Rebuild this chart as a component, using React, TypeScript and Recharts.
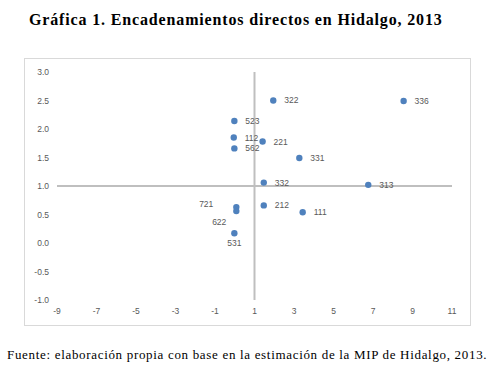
import React from "react";
import { ScatterChart, Scatter, XAxis, YAxis, ReferenceLine } from "recharts";

const sectors = ["322", "336", "523", "112", "562", "221", "331", "332", "313", "212", "111", "721", "622", "531"];
const backwardLinkage = [1.95, 8.55, -0.02, -0.05, -0.02, 1.41, 3.27, 1.47, 6.76, 1.47, 3.44, 0.08, 0.08, -0.02];
const forwardLinkage = [2.5, 2.49, 2.14, 1.85, 1.66, 1.78, 1.49, 1.06, 1.02, 0.66, 0.54, 0.63, 0.56, 0.17];
const xTicks = [-9, -7, -5, -3, -1, 1, 3, 5, 7, 9, 11];
const yTicks = [-1, -0.5, 0, 0.5, 1, 1.5, 2, 2.5, 3];

const data = sectors.map((s, i) => ({ name: s, x: backwardLinkage[i], y: forwardLinkage[i] }));

const labelPlacement: Record<string, { dx: number; dy: number; anchor: "start" | "end" | "middle" }> = {
  "721": { dx: -23, dy: -3, anchor: "end" },
  "622": { dx: -10, dy: 11, anchor: "end" },
  "531": { dx: 0, dy: 10, anchor: "middle" },
};

const FONT = "'Liberation Sans', Arial, sans-serif";

const Dot = (props: any) => {
  const { cx, cy, payload } = props;
  const p = labelPlacement[payload.name] || { dx: 11, dy: 0, anchor: "start" };
  return (
    <g>
      <circle cx={cx} cy={cy} r={3.2} fill="#4f81bd" />
      <text
        x={cx + p.dx}
        y={cy + p.dy}
        dy="0.35em"
        textAnchor={p.anchor}
        fontSize={8.5}
        fontFamily={FONT}
        fill="#595959"
      >
        {payload.name}
      </text>
    </g>
  );
};

export default function App() {
  return (
    <div style={{ position: "absolute", left: 0, top: 0, width: 502, height: 373, background: "#fff" }}>
      <div
        style={{
          position: "absolute",
          left: 29,
          top: 11,
          fontFamily: "'Liberation Serif', 'Times New Roman', serif",
          fontWeight: "bold",
          fontSize: 16,
          letterSpacing: 0.85,
          color: "#000",
          whiteSpace: "nowrap",
          lineHeight: "18px",
        }}
      >
        Gráfica 1. Encadenamientos directos en Hidalgo, 2013
      </div>
      <div
        style={{
          position: "absolute",
          left: 24,
          top: 58,
          width: 445,
          height: 266,
          border: "1px solid #d9d9d9",
        }}
      >
        <ScatterChart width={445} height={266} margin={{ top: 13, right: 18, left: 0, bottom: 0 }}>
          <XAxis
            type="number"
            dataKey="x"
            domain={[-9, 11]}
            ticks={xTicks}
            axisLine={false}
            tickLine={false}
            height={25}
            tickMargin={2}
            tick={{ fontSize: 8.5, fill: "#595959", fontFamily: FONT }}
            allowDataOverflow
          />
          <YAxis
            type="number"
            dataKey="y"
            domain={[-1, 3]}
            ticks={yTicks}
            axisLine={false}
            tickLine={false}
            width={32}
            tickFormatter={(v: number) => v.toFixed(1)}
            tick={{ fontSize: 8.5, fill: "#595959", fontFamily: FONT }}
            allowDataOverflow
          />
          <ReferenceLine x={1} stroke="#bfbfbf" strokeWidth={2} />
          <ReferenceLine y={1} stroke="#bfbfbf" strokeWidth={2} />
          <Scatter data={data} shape={Dot} isAnimationActive={false} />
        </ScatterChart>
      </div>
      <div
        style={{
          position: "absolute",
          left: 7,
          top: 347,
          fontFamily: "'Liberation Serif', 'Times New Roman', serif",
          fontSize: 13,
          letterSpacing: 0.68,
          color: "#000",
          whiteSpace: "nowrap",
          lineHeight: "15px",
        }}
      >
        Fuente: elaboración propia con base en la estimación de la MIP de Hidalgo, 2013.
      </div>
    </div>
  );
}
